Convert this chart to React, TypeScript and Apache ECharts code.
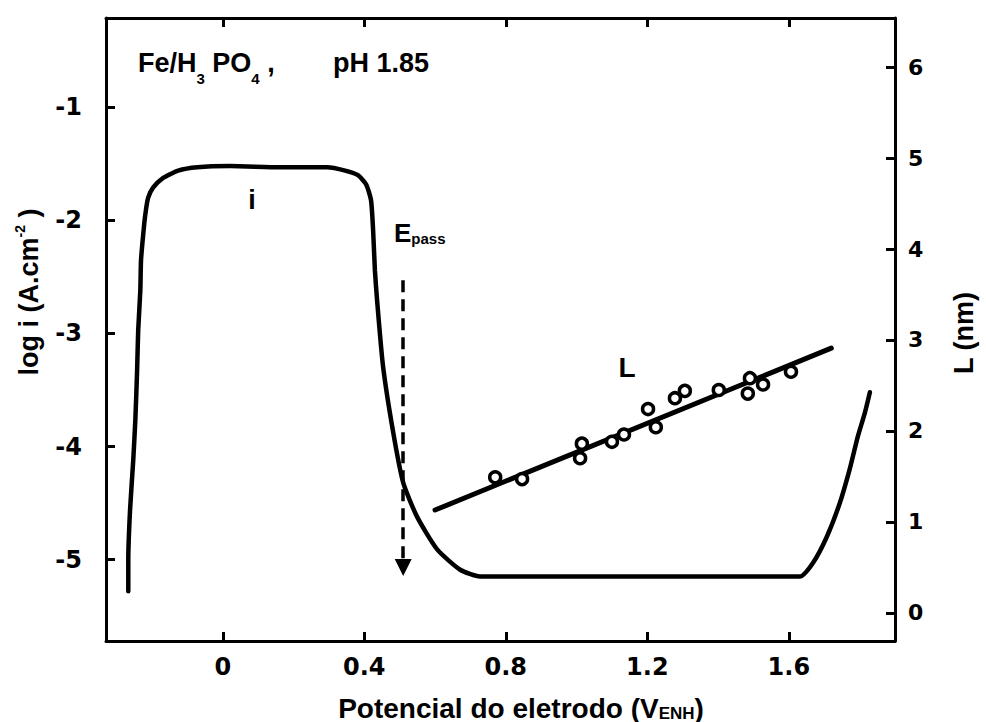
import React, { useEffect, useRef } from "react";
import * as echarts from "echarts";

// Axis ticks
const potentialTicks = [0, 0.4, 0.8, 1.2, 1.6];
const logCurrentTicks = [-5, -4, -3, -2, -1];
const thicknessTicks = [0, 1, 2, 3, 4, 5, 6];

// Polarisation curve: log i vs potential
const curvePotential = [
  -0.267, -0.267, -0.262, -0.253, -0.247, -0.242, -0.239, -0.233, -0.231, -0.225,
  -0.219, -0.211, -0.197, -0.171, -0.126, -0.072, 0.021, 0.162, 0.295, 0.346,
  0.382, 0.405, 0.419, 0.425, 0.43, 0.436, 0.453, 0.482, 0.51, 0.549,
  0.606, 0.671, 0.727, 1.631, 1.668, 1.707, 1.744, 1.772, 1.795, 1.815, 1.829,
];
const curveLogI = [
  -5.28, -5.0, -4.56, -4.12, -3.76, -3.32, -2.97, -2.62, -2.35, -2.13,
  -1.95, -1.8, -1.71, -1.63, -1.56, -1.53, -1.52, -1.53, -1.53, -1.56,
  -1.6, -1.68, -1.82, -2.09, -2.44, -2.7, -3.29, -3.88, -4.32, -4.62,
  -4.91, -5.09, -5.15, -5.15, -5.03, -4.8, -4.5, -4.2, -3.91, -3.7, -3.52,
];

// Film thickness L (nm) measurements
const filmPotential = [0.77, 0.846, 1.015, 1.01, 1.1, 1.134, 1.202, 1.224, 1.278, 1.306, 1.402, 1.49, 1.484, 1.527, 1.606];
const filmThickness = [1.49, 1.47, 1.86, 1.7, 1.88, 1.96, 2.24, 2.04, 2.36, 2.44, 2.45, 2.58, 2.41, 2.51, 2.65];

// Linear fit of L
const fitPotential = [0.6, 1.72];
const fitThickness = [1.13, 2.91];

// Passivation potential arrow
const passPotential = 0.51;
const passArrowLogI = [-2.53, -5.07];

const TICK_FONT = "DejaVu Sans";
const TEXT_FONT = "Liberation Sans";

export default function App() {
  const ref = useRef<HTMLDivElement>(null);

  useEffect(() => {
    if (!ref.current) return;
    const chart = echarts.init(ref.current, undefined, { renderer: "svg" });

    const axisLineStyle = { color: "#000", width: 3 };
    const tickStyle = { color: "#000", width: 3 };
    const labelStyle = {
      fontFamily: TICK_FONT,
      fontWeight: "bold" as const,
      fontSize: 24,
      color: "#000",
    };

    const option: any = {
      animation: false,
      backgroundColor: "#fff",
      grid: { left: 106, right: 91, top: 18, bottom: 81 },
      xAxis: [
        {
          type: "value",
          min: -0.33,
          max: 1.9,
          position: "bottom",
          axisLine: { show: true, onZero: false, lineStyle: axisLineStyle },
          axisTick: { show: true, inside: true, length: 9, lineStyle: tickStyle, customValues: potentialTicks },
          axisLabel: {
            ...labelStyle,
            margin: 14,
            customValues: potentialTicks,
            formatter: (v: number) => (v === 0 ? "0" : v.toFixed(1)),
          },
          splitLine: { show: false },
        },
        {
          type: "value",
          min: -0.33,
          max: 1.9,
          position: "top",
          axisLine: { show: true, onZero: false, lineStyle: axisLineStyle },
          axisTick: { show: true, inside: true, length: 9, lineStyle: tickStyle, customValues: potentialTicks },
          axisLabel: { show: false },
          splitLine: { show: false },
        },
      ],
      yAxis: [
        {
          type: "value",
          min: -5.72,
          max: -0.21,
          position: "left",
          axisLine: { show: true, onZero: false, lineStyle: axisLineStyle },
          axisTick: { show: true, inside: true, length: 9, lineStyle: tickStyle, customValues: logCurrentTicks },
          axisLabel: {
            ...labelStyle,
            margin: 24,
            customValues: logCurrentTicks,
            formatter: (v: number) => String(v),
          },
          splitLine: { show: false },
        },
        {
          type: "value",
          min: -0.31,
          max: 6.54,
          position: "right",
          axisLine: { show: true, onZero: false, lineStyle: axisLineStyle },
          axisTick: { show: true, inside: true, length: 9, lineStyle: tickStyle, customValues: thicknessTicks },
          axisLabel: {
            ...labelStyle,
            fontSize: 22,
            margin: 13,
            customValues: thicknessTicks,
            formatter: (v: number) => String(v),
          },
          splitLine: { show: false },
        },
      ],
      series: [
        {
          type: "line",
          name: "i",
          xAxisIndex: 0,
          yAxisIndex: 0,
          data: curvePotential.map((x, i) => [x, curveLogI[i]]),
          symbol: "none",
          smooth: 0.2,
          lineStyle: { color: "#000", width: 4.5, cap: "round", join: "round" },
          silent: true,
          markLine: {
            silent: true,
            symbol: ["none", "triangle"],
            symbolSize: 17,
            label: { show: false },
            lineStyle: { color: "#000", width: 3.5, type: [12, 7] },
            data: [
              [
                { coord: [passPotential, passArrowLogI[0]] },
                { coord: [passPotential, passArrowLogI[1]] },
              ],
            ],
          },
        },
        {
          type: "line",
          name: "fit",
          xAxisIndex: 0,
          yAxisIndex: 1,
          data: fitPotential.map((x, i) => [x, fitThickness[i]]),
          symbol: "none",
          lineStyle: { color: "#000", width: 5, cap: "round" },
          silent: true,
        },
        {
          type: "scatter",
          name: "L",
          xAxisIndex: 0,
          yAxisIndex: 1,
          data: filmPotential.map((x, i) => [x, filmThickness[i]]),
          symbol: "circle",
          symbolSize: 11,
          itemStyle: { color: "#fff", borderColor: "#000", borderWidth: 3.5, opacity: 1 },
          z: 5,
          silent: true,
        },
      ],
      graphic: [
        {
          type: "text",
          x: 138,
          y: 62.5,
          style: {
            text: "{m|Fe/H}{s|3}{m| PO}{s|4}{m| ,}",
            align: "left",
            verticalAlign: "middle",
            fill: "#000",
            rich: {
              m: { fontFamily: TEXT_FONT, fontWeight: "bold", fontSize: 27, lineHeight: 46, fill: "#000" },
              s: { fontFamily: TEXT_FONT, fontWeight: "bold", fontSize: 15, lineHeight: 15, verticalAlign: "bottom", fill: "#000" },
            },
          },
        },
        {
          type: "text",
          x: 333,
          y: 62.5,
          style: {
            text: "pH 1.85",
            align: "left",
            verticalAlign: "middle",
            fontFamily: TEXT_FONT,
            fontWeight: "bold",
            fontSize: 27,
            fill: "#000",
          },
        },
        {
          type: "text",
          x: 252,
          y: 200,
          style: {
            text: "i",
            align: "center",
            verticalAlign: "middle",
            fontFamily: TEXT_FONT,
            fontWeight: "bold",
            fontSize: 27,
            fill: "#000",
          },
        },
        {
          type: "text",
          x: 394,
          y: 232.5,
          style: {
            text: "{m|E}{s|pass}",
            align: "left",
            verticalAlign: "middle",
            rich: {
              m: { fontFamily: TEXT_FONT, fontWeight: "bold", fontSize: 26, lineHeight: 26, fill: "#000" },
              s: { fontFamily: TEXT_FONT, fontWeight: "bold", fontSize: 15, lineHeight: 15, verticalAlign: "bottom", fill: "#000" },
            },
          },
        },
        {
          type: "text",
          x: 627,
          y: 367,
          style: {
            text: "L",
            align: "center",
            verticalAlign: "middle",
            fontFamily: TEXT_FONT,
            fontWeight: "bold",
            fontSize: 28,
            fill: "#000",
          },
        },
        {
          type: "text",
          x: 29,
          y: 292,
          rotation: Math.PI / 2,
          style: {
            text: "{m|log i (A.cm}{s|-2}{m| )}",
            align: "center",
            verticalAlign: "middle",
            rich: {
              m: { fontFamily: TEXT_FONT, fontWeight: "bold", fontSize: 27, lineHeight: 32, fill: "#000" },
              s: { fontFamily: TEXT_FONT, fontWeight: "bold", fontSize: 14, lineHeight: 14, verticalAlign: "top", fill: "#000" },
            },
          },
        },
        {
          type: "text",
          x: 964,
          y: 333,
          rotation: Math.PI / 2,
          style: {
            text: "L (nm)",
            align: "center",
            verticalAlign: "middle",
            fontFamily: TEXT_FONT,
            fontWeight: "bold",
            fontSize: 27,
            fill: "#000",
          },
        },
        {
          type: "text",
          x: 521,
          y: 708,
          style: {
            text: "{m|Potencial do eletrodo (V}{s|ENH}{m|)}",
            align: "center",
            verticalAlign: "middle",
            rich: {
              m: { fontFamily: TEXT_FONT, fontWeight: "bold", fontSize: 28, lineHeight: 28, fill: "#000" },
              s: { fontFamily: TEXT_FONT, fontWeight: "bold", fontSize: 17, lineHeight: 17, verticalAlign: "bottom", fill: "#000" },
            },
          },
        },
      ],
    };

    chart.setOption(option);
    return () => chart.dispose();
  }, []);

  return (
    <div
      ref={ref}
      style={{ position: "fixed", left: 0, top: 0, width: 986, height: 722, background: "#fff" }}
    />
  );
}
